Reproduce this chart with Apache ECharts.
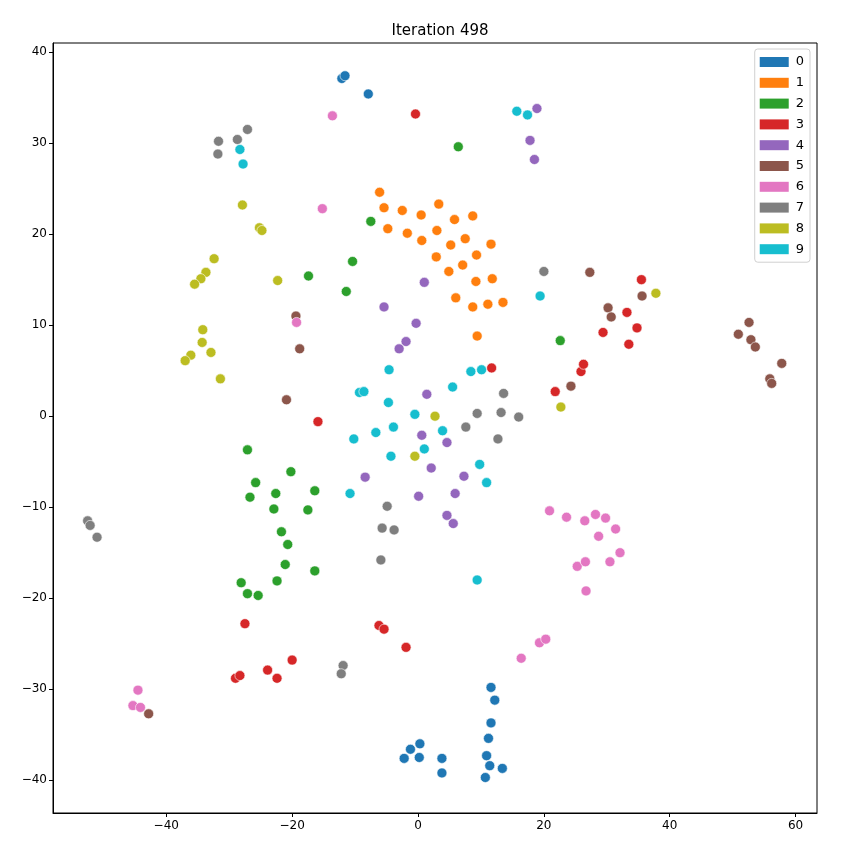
<!DOCTYPE html>
<html>
<head>
<meta charset="utf-8">
<script src="https://cdn.jsdelivr.net/npm/echarts@6/dist/echarts.min.js"></script>
<style>html,body{margin:0;padding:0;background:#fff}#c{width:848px;height:855px}</style>
</head>
<body>
<div id="c"></div>
<script>
const titleText = 'Iteration 498';
const classNames = ['0','1','2','3','4','5','6','7','8','9'];
const colors = ['#1f77b4','#ff7f0e','#2ca02c','#d62728','#9467bd','#8c564b','#e377c2','#7f7f7f','#bcbd22','#17becf'];
const xTicks = [-40,-20,0,20,40,60];
const yTicks = [-40,-30,-20,-10,0,10,20,30,40];

const class0 = [[-12.1,37.1],[-11.6,37.4],[-7.9,35.4],[11.6,-29.8],[12.2,-31.2],[11.6,-33.7],[11.2,-35.4],[10.9,-37.3],[11.4,-38.4],[13.4,-38.7],[10.7,-39.7],[0.3,-36.0],[-1.2,-36.6],[-2.2,-37.6],[0.2,-37.5],[3.8,-37.6],[3.8,-39.2]];
const class1 = [[-6.1,24.6],[-5.4,22.9],[-2.5,22.6],[0.5,22.1],[3.3,23.3],[5.8,21.6],[8.7,22.0],[-4.8,20.6],[-1.7,20.1],[0.6,19.3],[3.0,20.4],[5.2,18.8],[7.5,19.5],[11.6,18.9],[2.9,17.5],[9.3,17.7],[4.9,15.9],[7.1,16.6],[9.2,14.8],[11.8,15.1],[6.0,13.0],[8.7,12.0],[11.1,12.3],[13.5,12.5],[9.4,8.8]];
const class2 = [[6.4,29.6],[-7.5,21.4],[-10.4,17.0],[-17.4,15.4],[-11.4,13.7],[22.6,8.3],[-27.1,-3.7],[-20.2,-6.1],[-25.8,-7.3],[-22.6,-8.5],[-26.7,-8.9],[-22.9,-10.2],[-17.5,-10.3],[-16.4,-8.2],[-21.7,-12.7],[-20.7,-14.1],[-21.1,-16.3],[-22.4,-18.1],[-28.1,-18.3],[-27.1,-19.5],[-25.4,-19.7],[-16.4,-17.0]];
const class3 = [[-0.4,33.2],[11.7,5.3],[-15.9,-0.6],[21.8,2.7],[25.9,4.9],[26.3,5.7],[29.4,9.2],[33.5,7.9],[34.8,9.7],[33.2,11.4],[35.5,15.0],[-27.5,-22.8],[-29.0,-28.8],[-28.3,-28.5],[-23.9,-27.9],[-22.4,-28.8],[-20.0,-26.8],[-6.2,-23.0],[-5.4,-23.4],[-1.9,-25.4]];
const class4 = [[18.9,33.8],[17.8,30.3],[18.5,28.2],[1.0,14.7],[-5.4,12.0],[-0.3,10.2],[-1.9,8.2],[-3.0,7.4],[1.4,2.4],[0.6,-2.1],[4.6,-2.9],[2.1,-5.7],[7.3,-6.6],[-8.4,-6.7],[5.9,-8.5],[0.1,-8.8],[4.6,-10.9],[5.6,-11.8]];
const class5 = [[-19.4,11.0],[-18.8,7.4],[-20.9,1.8],[24.3,3.3],[30.2,11.9],[30.7,10.9],[35.6,13.2],[27.3,15.8],[50.9,9.0],[52.6,10.3],[52.9,8.4],[53.6,7.6],[57.8,5.8],[55.9,4.1],[56.2,3.6],[-42.8,-32.7]];
const class6 = [[-13.6,33.0],[-15.2,22.8],[-19.3,10.3],[20.9,-10.4],[23.6,-11.1],[26.5,-11.5],[28.2,-10.8],[29.8,-11.2],[31.4,-12.4],[28.7,-13.2],[32.1,-15.0],[25.3,-16.5],[26.6,-16.0],[30.5,-16.0],[26.7,-19.2],[19.3,-24.9],[20.3,-24.5],[16.4,-26.6],[-44.5,-30.1],[-45.3,-31.8],[-44.1,-32.0]];
const class7 = [[-31.7,30.2],[-31.8,28.8],[-28.7,30.4],[-27.1,31.5],[20.0,15.9],[13.6,2.5],[9.4,0.3],[13.2,0.4],[16.0,-0.1],[7.6,-1.2],[12.7,-2.5],[-4.9,-9.9],[-5.7,-12.3],[-3.8,-12.5],[-5.9,-15.8],[-11.9,-27.4],[-12.2,-28.3],[-52.5,-11.5],[-52.1,-12.0],[-51.0,-13.3]];
const class8 = [[-27.9,23.2],[-25.2,20.7],[-24.8,20.4],[-32.4,17.3],[-33.7,15.8],[-34.5,15.1],[-35.5,14.5],[-22.3,14.9],[-34.2,9.5],[-34.3,8.1],[-32.9,7.0],[-36.1,6.7],[-37.0,6.1],[-31.4,4.1],[2.7,0.0],[-0.5,-4.4],[22.7,1.0],[37.8,13.5]];
const class9 = [[-28.3,29.3],[-27.8,27.7],[15.7,33.5],[17.4,33.1],[19.4,13.2],[-4.6,5.1],[-9.3,2.6],[-8.6,2.7],[-4.7,1.5],[-0.5,0.2],[5.5,3.2],[8.4,4.9],[10.1,5.1],[-3.9,-1.2],[-6.7,-1.8],[-10.2,-2.5],[3.9,-1.6],[1.0,-3.6],[-4.3,-4.4],[9.8,-5.3],[10.9,-7.3],[-10.8,-8.5],[9.4,-18.0]];

const allData = [class0,class1,class2,class3,class4,class5,class6,class7,class8,class9];
const fmt = v => (v < 0 ? '\u2212' + Math.abs(v) : String(v));
const font = 'DejaVu Sans';

const chart = echarts.init(document.getElementById('c'), null, {renderer:'canvas'});
chart.setOption({
  animation: false,
  backgroundColor: '#fff',
  title: {
    text: titleText, left: 435, top: 19, textAlign: 'center',
    textStyle: {fontFamily: font, fontSize: 15, fontWeight: 'normal', color: '#000'}
  },
  legend: {
    orient: 'vertical', right: 38, top: 49,
    icon: 'rect', itemWidth: 29, itemHeight: 10, itemGap: 6.8,
    padding: [6, 6, 6, 5],
    borderColor: '#d0d0d0', borderWidth: 1, borderRadius: 3,
    backgroundColor: 'rgba(255,255,255,0.8)',
    itemStyle: {borderWidth: 0},
    textStyle: {fontFamily: font, fontSize: 13, color: '#000', lineHeight: 14, padding: [0,0,0,2]},
    data: classNames
  },
  grid: {left: 53, right: 31, top: 43, bottom: 42, show: true, borderColor: '#000', borderWidth: 1, backgroundColor: 'transparent'},
  xAxis: {
    type: 'value', min: -58, max: 63.4,
    splitLine: {show: false},
    axisLine: {show: true, onZero: false, lineStyle: {color: '#000', width: 1}},
    axisTick: {show: true, inside: false, length: 4, lineStyle: {color: '#000'}, customValues: xTicks},
    axisLabel: {customValues: xTicks, formatter: fmt, fontFamily: font, fontSize: 12, color: '#000', margin: 7}
  },
  yAxis: {
    type: 'value', min: -43.6, max: 41,
    splitLine: {show: false},
    axisLine: {show: true, onZero: false, lineStyle: {color: '#000', width: 1}},
    axisTick: {show: true, inside: false, length: 4, lineStyle: {color: '#000'}, customValues: yTicks},
    axisLabel: {customValues: yTicks, formatter: fmt, fontFamily: font, fontSize: 12, color: '#000', margin: 6}
  },
  series: allData.map((d, i) => ({
    name: classNames[i], type: 'scatter', data: d,
    symbol: 'circle', symbolSize: 10,
    itemStyle: {color: colors[i], borderColor: '#fff', borderWidth: 0.6, opacity: 1}
  }))
});
</script>
</body>
</html>
